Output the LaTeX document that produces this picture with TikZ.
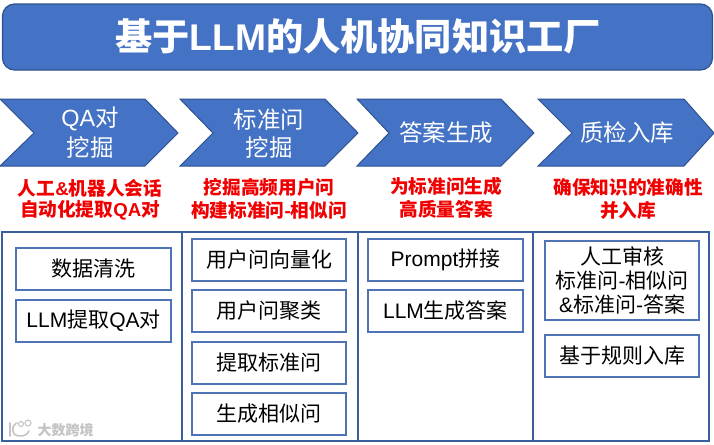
\documentclass[tikz,border=0pt]{standalone}
\usepackage{fontspec}
\setmainfont{Liberation Sans}
\newfontfamily\cjk{Noto Sans CJK SC}
\newcommand{\Z}[1]{{\cjk #1}}
\definecolor{fillblue}{HTML}{4472C4}
\definecolor{edgeblue}{HTML}{2F528F}
\definecolor{boxblue}{HTML}{4F74B5}
\definecolor{tableblue}{HTML}{3A5F9E}
\definecolor{redtext}{HTML}{F00000}
\definecolor{wmgray}{HTML}{C4C4C4}
\tikzset{
  x=0.75pt,y=-0.75pt,
  chev/.style={fill=fillblue,draw=edgeblue,line width=0.75pt,line join=miter},
  chevtext/.style={text=white,align=center,inner sep=0pt,font=\fontsize{17.6}{21}\selectfont},
  redlabel/.style={text=redtext,align=center,inner sep=0pt,font=\fontsize{14}{17}\selectfont\bfseries},
  stepbox/.style={draw=boxblue,line width=1.5pt,fill=white,align=center,inner sep=0pt,text=black,font=\fontsize{15.75}{18}\selectfont},
  tableline/.style={draw=tableblue,line width=1.5pt},
}
\begin{document}
\begin{tikzpicture}
\useasboundingbox (0,0) rectangle (714,444);
\fill[white] (0,0) rectangle (714,444);
% title
\node[draw=edgeblue,fill=fillblue,line width=0.9pt,rounded corners=9pt,minimum width=532.5pt,minimum height=49.5pt,inner sep=0pt] (title) at (357.5,37) {};
\node[text=white,inner sep=0pt,font=\fontsize{27.9}{30}\selectfont\bfseries] (titletext) at (358,36) {\Z{基于}LLM\Z{的人机协同知识工厂}};
% chevrons
\draw[chev] (0,99) -- (145,99) -- (178,133) -- (145,166) -- (0,166) -- (34,133) -- cycle;
\draw[chev] (180,99) -- (325,99) -- (358,133) -- (325,166) -- (180,166) -- (213,133) -- cycle;
\draw[chev] (357,99) -- (501,99) -- (534,133) -- (501,166) -- (357,166) -- (389,133) -- cycle;
\draw[chev] (538,99) -- (684,99) -- (714,133) -- (684,166) -- (538,166) -- (572,133) -- cycle;
\node[chevtext] (c1a) at (90,119) {QA\Z{对}};
\node[chevtext] (c1b) at (90,147) {\Z{挖掘}};
\node[chevtext] (c2a) at (269,120) {\Z{标准问}};
\node[chevtext] (c2b) at (269,147) {\Z{挖掘}};
\node[chevtext] (c3) at (446,133) {\Z{答案生成}};
\node[chevtext] (c4) at (627,133) {\Z{质检入库}};
% red labels
\node[redlabel] (r1a) at (90,188) {\Z{人工}\&\Z{机器人会话}};
\node[redlabel] (r1b) at (90,210) {\Z{自动化提取}QA\Z{对}};
\node[redlabel] (r2a) at (269,187) {\Z{挖掘高频用户问}};
\node[redlabel] (r2b) at (269,210) {\Z{构建标准问}-\Z{相似问}};
\node[redlabel] (r3a) at (446,186) {\Z{为标准问生成}};
\node[redlabel] (r3b) at (446,209) {\Z{高质量答案}};
\node[redlabel] (r4a) at (628,187) {\Z{确保知识的准确性}};
\node[redlabel] (r4b) at (628,210) {\Z{并入库}};
% table
\draw[tableline] (2,232) rectangle (709,441);
\draw[tableline] (182,232) -- (182,441);
\draw[tableline] (358,232) -- (358,441);
\draw[tableline] (533,232) -- (533,441);
% boxes
\node[stepbox,minimum width=116.25pt,minimum height=31.5pt] (b11) at (93.5,269) {\Z{数据清洗}};
\node[stepbox,minimum width=116.25pt,minimum height=31.5pt] (b12) at (93.5,321) {LLM\Z{提取}QA\Z{对}};
\node[stepbox,minimum width=115.5pt,minimum height=31.5pt] (b21) at (269,260) {\Z{用户问向量化}};
\node[stepbox,minimum width=115.5pt,minimum height=31.5pt] (b22) at (269,311) {\Z{用户问聚类}};
\node[stepbox,minimum width=115.5pt,minimum height=31.5pt] (b23) at (269,363) {\Z{提取标准问}};
\node[stepbox,minimum width=115.5pt,minimum height=31.5pt] (b24) at (269,414) {\Z{生成相似问}};
\node[stepbox,minimum width=116.25pt,minimum height=31.5pt] (b31) at (445.5,260) {Prompt\Z{拼接}};
\node[stepbox,minimum width=116.25pt,minimum height=31.5pt] (b32) at (445.5,311) {LLM\Z{生成答案}};
\node[stepbox,minimum width=115.5pt,minimum height=59.25pt] (b41) at (622,280.5) {\Z{人工审核}\\\Z{标准问}-\Z{相似问}\\\&\Z{标准问}-\Z{答案}};
\node[stepbox,minimum width=115.5pt,minimum height=31.5pt] (b42) at (622,356) {\Z{基于规则入库}};
% watermark
\node[text=wmgray,inner sep=0pt,font=\fontsize{10.5}{12}\selectfont\bfseries] (wm) at (65.5,430) {\Z{大数跨境}};
\draw[wmgray,line width=1.2pt,line cap=round] (10,423) -- (10,436) (14,434) .. controls (20,438) and (27,436) .. (29,431) (14,434) .. controls (11,428) and (14,424) .. (17,423);
\draw[wmgray,line width=0.8pt] (21,424) circle (2.5) (28,423) circle (3);
\end{tikzpicture}
\end{document}
